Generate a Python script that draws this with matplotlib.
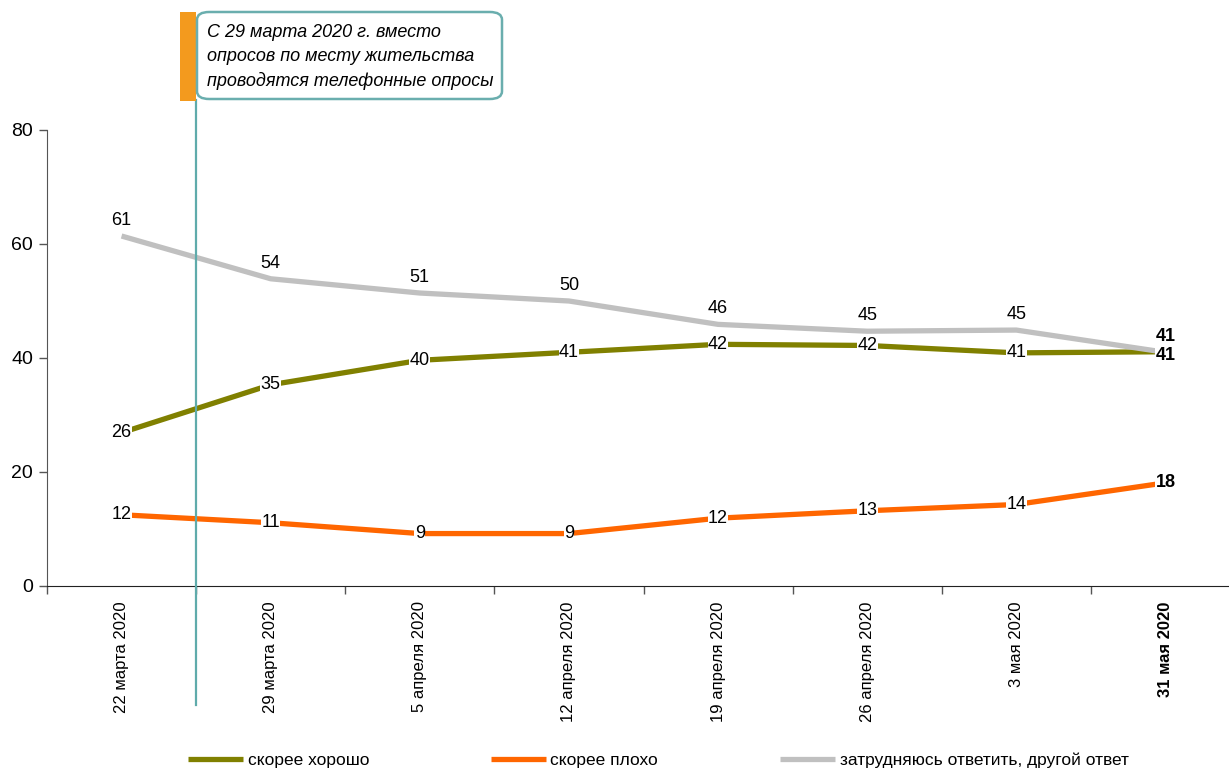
import matplotlib
matplotlib.use('Agg')
import matplotlib.pyplot as plt
from matplotlib.patches import FancyBboxPatch, Rectangle
from matplotlib.lines import Line2D
import matplotlib.transforms as mtransforms

plt.rcParams['font.family'] = ['Liberation Sans', 'DejaVu Sans']

dates = ['22 марта 2020', '29 марта 2020', '5 апреля 2020', '12 апреля 2020',
         '19 апреля 2020', '26 апреля 2020', '3 мая 2020', '31 мая 2020']
good = [26.9, 35.3, 39.6, 41.0, 42.4, 42.2, 40.9, 41.1]
bad = [12.5, 11.1, 9.2, 9.2, 11.9, 13.2, 14.3, 18.1]
hard = [61.4, 53.9, 51.4, 50.0, 45.9, 44.7, 44.9, 41.0]
good_lbl = [26, 35, 40, 41, 42, 42, 41, 41]
bad_lbl = [12, 11, 9, 9, 12, 13, 14, 18]
hard_lbl = [61, 54, 51, 50, 46, 45, 45, 41]
names = ['скорее хорошо', 'скорее плохо', 'затрудняюсь ответить, другой ответ']
colors = ['#808000', '#ff6600', '#c0c0c0']
note = 'С 29 марта 2020 г. вместо\nопросов по месту жительства\nпроводятся телефонные опросы'

W, H = 1229, 771
fig = plt.figure(figsize=(W / 100, H / 100), dpi=100)
ax = fig.add_axes([47 / W, 1 - 586 / H, 1193 / W, 456 / H])
x = list(range(len(dates)))

lines = []
for vals, c in zip([good, bad, hard], colors):
    ln, = ax.plot(x, vals, color=c, lw=3.8, solid_capstyle='butt', zorder=2)
    lines.append(ln)

last = len(dates) - 1
for i in x:
    w = 'bold' if i == last else 'normal'
    dy = -0.7 if i == last else 0
    ax.text(i, good[i] + dy, str(good_lbl[i]), ha='center', va='center', fontsize=13,
            weight=w, zorder=4,
            bbox=dict(boxstyle='square,pad=0.02', fc='white', ec='none'))
    ax.text(i, bad[i], str(bad_lbl[i]), ha='center', va='center', fontsize=13,
            weight=w, zorder=4,
            bbox=dict(boxstyle='square,pad=0.02', fc='white', ec='none'))
    ax.annotate(str(hard_lbl[i]), (i, hard[i]), xytext=(0, 5), textcoords='offset points',
                ha='center', va='bottom', fontsize=13, weight=w, zorder=4)

ax.set_xlim(-0.5, len(dates) - 0.5)
ax.set_ylim(0, 80)
ax.set_yticks([0, 20, 40, 60, 80])
ax.tick_params(axis='y', labelsize=14, length=6, width=1, color='#555555', pad=4)
ax.set_xticks(x)
ax.set_xticklabels(dates, rotation=90, fontsize=12, va='top')
ax.get_xticklabels()[last].set_fontweight('bold')
ax.tick_params(axis='x', which='major', length=0, pad=11)
ax.set_xticks([i + 0.5 for i in range(-1, len(dates))], minor=True)
ax.tick_params(axis='x', which='minor', length=6, width=1, color='#555555')
for s in ['top', 'right']:
    ax.spines[s].set_visible(False)
ax.spines['left'].set_color('#555555')
ax.spines['bottom'].set_color('#222222')

# vertical marker line for the change of survey method
tr = mtransforms.blended_transform_factory(ax.transData, fig.transFigure)
ax.add_line(Line2D([0.5, 0.5], [1 - 705 / H, 1 - 100 / H], transform=tr,
                   color='#5fabab', lw=1.6, clip_on=False, zorder=3))

fig.patches.append(Rectangle((180 / W, 1 - 101 / H), 16 / W, 89 / H,
                             transform=fig.transFigure, fc='#f39a1e', ec='none'))
fig.patches.append(FancyBboxPatch((197 / W, 1 - 99 / H), 305 / W, 87 / H,
                                  boxstyle='round,pad=0,rounding_size=0.01',
                                  transform=fig.transFigure, fc='white',
                                  ec='#6aaeae', lw=1.8))
fig.text(207 / W, 1 - 57 / H, note, ha='left', va='center', fontsize=13,
         style='italic', linespacing=1.55)

fig.legend(lines, names, loc='center left', bbox_to_anchor=(172 / W, 1 - 760 / H),
           ncol=3, frameon=False, fontsize=12.5, handlelength=3.2, handletextpad=0.25,
           columnspacing=7.0)

fig.savefig('out.png', dpi=100)
